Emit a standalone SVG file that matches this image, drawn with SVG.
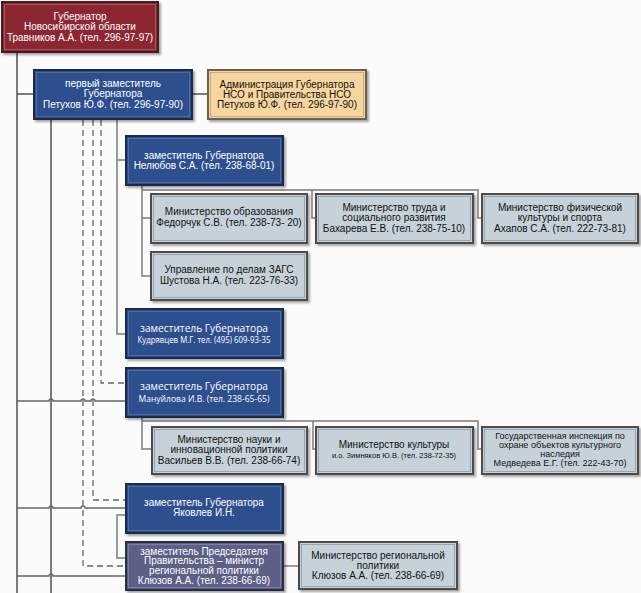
<svg xmlns="http://www.w3.org/2000/svg" width="641" height="593" viewBox="0 0 641 593">
<defs>
<filter id="sh" x="-10%" y="-10%" width="130%" height="140%">
<feGaussianBlur in="SourceAlpha" stdDeviation="1.2"/>
<feOffset dx="2" dy="2" result="b"/>
<feComponentTransfer><feFuncA type="linear" slope="0.35"/></feComponentTransfer>
<feMerge><feMergeNode/><feMergeNode in="SourceGraphic"/></feMerge>
</filter>
</defs>
<style>
.box{filter:url(#sh);stroke-width:2}
.in{fill:none;stroke-width:0.7}
.red{fill:#8b2832;stroke:#4a1a1e}
.red-in{stroke:#b26a70}
.blue{fill:#2d4f8d;stroke:#1f2c4a}
.blue-in{stroke:#6078a6}
.beige{fill:#f6d59e;stroke:#6a6150}
.beige-in{stroke:#a89a80}
.grey{fill:#c6d1da;stroke:#4c4c4c}
.grey-in{stroke:#8a9298}
.violet{fill:#5b5f86;stroke:#2c2f45}
.violet-in{stroke:#8a8eae}
text{font-family:"Liberation Sans",Arial,sans-serif;font-size:10px;text-anchor:middle}
.w{fill:#ffffff}
.k{fill:#111111}
.cal{font-family:"Open Sans","Liberation Sans",sans-serif}
.main{fill:none;stroke:#444;stroke-width:1.4}
.mid{fill:none;stroke:#666;stroke-width:1.3}
.sub{fill:none;stroke:#7c7c7c;stroke-width:1.5}
.dash{fill:none;stroke:#666;stroke-width:1.3;stroke-dasharray:6,4}
</style>
<rect width="641" height="593" fill="#fbfbfb"/>
<g id="connectors">
<path class="main" d="M17 53 V593"/>
<path class="main" d="M17 94 H34"/>
<path class="main" d="M193 94 H208"/>
<path class="main" d="M51 120 V593"/>
<path class="dash" d="M83 120 V566 H126"/>
<path class="dash" d="M93 120 V500 H126"/>
<path class="dash" d="M101 120 V383 H126"/>
<path class="sub" d="M117 120 V160 H126 M117 160 V334 H126"/>
<path class="mid" d="M17 401 H49 a2 2 0 0 1 4 0 H81 a2 2 0 0 1 4 0 H91 a2 2 0 0 1 4 0 H126"/>
<path class="mid" d="M17 508 H49 a2 2 0 0 1 4 0 H81 a2 2 0 0 1 4 0 H126"/>
<path class="mid" d="M17 576 H49 a2 2 0 0 1 4 0 H126"/>
<path class="sub" d="M126 515 H117 V558 H126"/>
<path class="sub" d="M142 186 V276 H151 M142 218 H151 M142 190 H478 V218 H482 M312 190 V218 H316"/>
<path class="sub" d="M142 418 V449 H152 M142 421 H478 V449 H482 M313 421 V449 H316"/>
<path class="sub" d="M283 566 H299"/>
</g>
<g id="gov">
<rect class="box red" x="2" y="2" width="156" height="50"/>
<rect class="in red-in" x="4.5" y="4.5" width="151" height="45"/>
<text class="w" x="80" y="20">Губернатор</text>
<text class="w" x="80" y="30">Новосибирской области</text>
<text class="w" x="80" y="41">Травников А.А. (тел. 296-97-97)</text>
</g>
<g id="first-deputy">
<rect class="box blue" x="34" y="70" width="158" height="49"/>
<rect class="in blue-in" x="36.5" y="72.5" width="153" height="44"/>
<text class="w" x="113" y="87">первый заместитель</text>
<text class="w" x="113" y="97">Губернатора</text>
<text class="w" x="113" y="108">Петухов Ю.Ф. (тел. 296-97-90)</text>
</g>
<g id="admin">
<rect class="box beige" x="208" y="70" width="158" height="49"/>
<rect class="in beige-in" x="210.5" y="72.5" width="153" height="44"/>
<text class="k" x="287" y="88">Администрация Губернатора</text>
<text class="k" x="287" y="98">НСО и Правительства НСО</text>
<text class="k" x="287" y="108">Петухов Ю.Ф. (тел. 296-97-90)</text>
</g>
<g id="nelyubov">
<rect class="box blue" x="126" y="136" width="157" height="49"/>
<rect class="in blue-in" x="128.5" y="138.5" width="152" height="44"/>
<text class="w" x="204" y="159">заместитель Губернатора</text>
<text class="w" x="204" y="169">Нелюбов С.А. (тел. 238-68-01)</text>
</g>
<g id="edu">
<rect class="box grey" x="151" y="194" width="156" height="49"/>
<rect class="in grey-in" x="153.5" y="196.5" width="151" height="44"/>
<text class="k" x="229" y="215">Министерство образования</text>
<text class="k" x="229" y="226">Федорчук С.В. (тел. 238-73- 20)</text>
</g>
<g id="labor">
<rect class="box grey" x="316" y="194" width="157" height="49"/>
<rect class="in grey-in" x="318.5" y="196.5" width="152" height="44"/>
<text class="k" x="394" y="211">Министерство труда и</text>
<text class="k" x="394" y="221">социального развития</text>
<text class="k" x="394" y="232">Бахарева Е.В. (тел. 238-75-10)</text>
</g>
<g id="sport">
<rect class="box grey" x="482" y="194" width="156" height="49"/>
<rect class="in grey-in" x="484.5" y="196.5" width="151" height="44"/>
<text class="k" x="560" y="211">Министерство физической</text>
<text class="k" x="560" y="221">культуры и спорта</text>
<text class="k" x="560" y="232">Ахапов С.А. (тел. 222-73-81)</text>
</g>
<g id="zags">
<rect class="box grey" x="151" y="252" width="156" height="48"/>
<rect class="in grey-in" x="153.5" y="254.5" width="151" height="43"/>
<text class="k" x="229" y="273">Управление по делам ЗАГС</text>
<text class="k" x="229" y="284">Шустова Н.А. (тел. 223-76-33)</text>
</g>
<g id="kudryavtsev">
<rect class="box blue" x="126" y="309" width="157" height="49"/>
<rect class="in blue-in" x="128.5" y="311.5" width="152" height="44"/>
<text class="w cal" x="204" y="332" style="font-size:11.5px" textLength="128" lengthAdjust="spacingAndGlyphs">заместитель Губернатора</text>
<text class="w cal" x="204" y="343" style="font-size:8.5px" textLength="133" lengthAdjust="spacingAndGlyphs">Кудрявцев М.Г. тел. (495) 609-93-35</text>
</g>
<g id="manuylova">
<rect class="box blue" x="126" y="368" width="157" height="49"/>
<rect class="in blue-in" x="128.5" y="370.5" width="152" height="44"/>
<text class="w cal" x="204" y="390" style="font-size:11.5px" textLength="128" lengthAdjust="spacingAndGlyphs">заместитель Губернатора</text>
<text class="w cal" x="204" y="402" style="font-size:9.5px" textLength="131" lengthAdjust="spacingAndGlyphs">Мануйлова И.В. (тел. 238-65-65)</text>
</g>
<g id="science">
<rect class="box grey" x="152" y="427" width="155" height="47"/>
<rect class="in grey-in" x="154.5" y="429.5" width="150" height="42"/>
<text class="k" x="229" y="443">Министерство науки и</text>
<text class="k" x="229" y="453">инновационной политики</text>
<text class="k" x="229" y="464">Васильев В.В. (тел. 238-66-74)</text>
</g>
<g id="culture">
<rect class="box grey" x="316" y="427" width="157" height="47"/>
<rect class="in grey-in" x="318.5" y="429.5" width="152" height="42"/>
<text class="k" x="394" y="448">Министерство культуры</text>
<text class="k" x="394" y="458" style="font-size:7.5px">и.о. Зимняков Ю.В. (тел.  238-72-35)</text>
</g>
<g id="inspection">
<rect class="box grey" x="482" y="427" width="156" height="47"/>
<rect class="in grey-in" x="484.5" y="429.5" width="151" height="42"/>
<text class="k" x="560" y="439" style="font-size:9px">Государственная инспекция по</text>
<text class="k" x="560" y="448" style="font-size:9px">охране объектов культурного</text>
<text class="k" x="560" y="457" style="font-size:9px">наследия</text>
<text class="k" x="560" y="466" style="font-size:9px">Медведева Е.Г. (тел. 222-43-70)</text>
</g>
<g id="yakovlev">
<rect class="box blue" x="126" y="484" width="157" height="49"/>
<rect class="in blue-in" x="128.5" y="486.5" width="152" height="44"/>
<text class="w" x="204" y="506">заместитель Губернатора</text>
<text class="w" x="204" y="516">Яковлев И.Н.</text>
</g>
<g id="klyuzov">
<rect class="box violet" x="126" y="542" width="157" height="48"/>
<rect class="in violet-in" x="128.5" y="544.5" width="152" height="43"/>
<text class="w" x="204" y="554.5">заместитель Председателя</text>
<text class="w" x="204" y="564">Правительства – министр</text>
<text class="w" x="204" y="573.5">региональной политики</text>
<text class="w" x="204" y="583.5">Клюзов А.А. (тел. 238-66-69)</text>
</g>
<g id="regional">
<rect class="box grey" x="299" y="542" width="158" height="47"/>
<rect class="in grey-in" x="301.5" y="544.5" width="153" height="42"/>
<text class="k" x="378" y="559">Министерство региональной</text>
<text class="k" x="378" y="569">политики</text>
<text class="k" x="378" y="579">Клюзов А.А. (тел. 238-66-69)</text>
</g>
</svg>
